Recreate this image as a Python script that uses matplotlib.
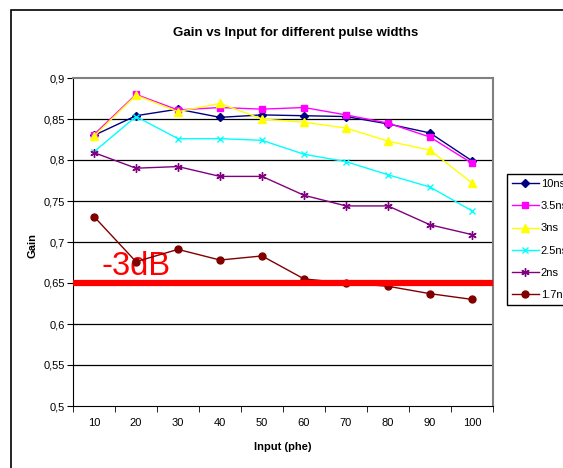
import numpy as np
import matplotlib.pyplot as plt
from matplotlib.patches import Rectangle

plt.rcParams['font.family'] = ['Liberation Sans', 'DejaVu Sans']

# datos
inputs = [10, 20, 30, 40, 50, 60, 70, 80, 90, 100]
g_10ns = [0.830, 0.854, 0.862, 0.852, 0.855, 0.854, 0.853, 0.844, 0.833, 0.799]
g_35ns = [0.831, 0.880, 0.861, 0.864, 0.862, 0.864, 0.855, 0.845, 0.828, 0.796]
g_3ns = [0.829, 0.879, 0.859, 0.869, 0.850, 0.846, 0.839, 0.823, 0.812, 0.772]
g_25ns = [0.810, 0.853, 0.826, 0.826, 0.824, 0.807, 0.798, 0.782, 0.767, 0.738]
g_2ns = [0.809, 0.790, 0.792, 0.780, 0.780, 0.757, 0.744, 0.744, 0.721, 0.709]
g_17ns = [0.731, 0.676, 0.691, 0.678, 0.683, 0.655, 0.650, 0.646, 0.637, 0.630]
series_labels = ['10ns', '3.5ns', '3ns', '2.5ns', '2ns', '1.7ns']
limit_3db = 0.65
yticks = [0.5, 0.55, 0.6, 0.65, 0.7, 0.75, 0.8, 0.85, 0.9]

estilos = [
    ('#000080', 'D', 4.5),
    ('#FF00FF', 's', 5),
    ('#FFFF00', '^', 6),
    ('#00FFFF', 'x', 5),
    ('#800080', (6, 2, 0), 6),
    ('#800000', 'o', 5),
]

fig = plt.figure(figsize=(5.63, 4.68), dpi=100)
# marco del grafico
fig.patches.append(Rectangle((11 / 563, -0.1), 1.2, 1 - 10 / 468 + 0.1,
                             transform=fig.transFigure, fill=False,
                             edgecolor='black', linewidth=1.2))

ax = fig.add_axes([73 / 563, 1 - 406 / 468, 420 / 563, 328 / 468])
pos = np.arange(1, len(inputs) + 1)

for ys, lab, (col, mk, ms) in zip([g_10ns, g_35ns, g_3ns, g_25ns, g_2ns, g_17ns],
                                  series_labels, estilos):
    ax.plot(pos, ys, color=col, marker=mk, markersize=ms, linewidth=1,
            markeredgewidth=1, label=lab, zorder=3)

ax.axhline(limit_3db, color='red', linewidth=4.5, zorder=4)
ax.text(1.17, 0.660, '-3dB', color='red', fontsize=23.5, va='baseline', ha='left', zorder=2)

ax.set_xlim(0.5, len(inputs) + 0.5)
ax.set_ylim(0.5, 0.9)
ax.set_yticks(yticks)
ax.set_yticklabels([('%g' % v).replace('.', ',') for v in yticks], fontsize=8)
ax.set_xticks(pos)
ax.set_xticklabels([str(v) for v in inputs], fontsize=8)
ax.set_xticks(np.arange(0.5, len(inputs) + 1), minor=True)
ax.tick_params(axis='x', which='major', length=0, pad=9)
ax.tick_params(axis='x', which='minor', length=4, direction='out')
ax.tick_params(axis='y', length=4, direction='out', pad=2)
for y in yticks[1:-1]:
    ax.axhline(y, color='black', linewidth=0.9, zorder=1)

ax.spines['top'].set_color('#808080')
ax.spines['right'].set_color('#808080')
ax.spines['top'].set_linewidth(1.5)
ax.spines['right'].set_linewidth(1.5)

ax.set_xlabel('Input (phe)', fontsize=8, fontweight='bold', labelpad=10)
fig.text(32 / 563, 1 - 245 / 468, 'Gain', rotation=90, fontsize=8,
         fontweight='bold', ha='center', va='center')
fig.text(296 / 563, 1 - 33 / 468, 'Gain vs Input for different pulse widths',
         fontsize=9.5, fontweight='bold', ha='center', va='center')

leg = ax.legend(loc='upper left', bbox_to_anchor=(507 / 563, 1 - 174 / 468),
                bbox_transform=fig.transFigure, fancybox=False, framealpha=1,
                edgecolor='black', fontsize=8, handlelength=2.4,
                labelspacing=1.1, borderpad=0.45, borderaxespad=0,
                handletextpad=0.2)
leg.get_frame().set_linewidth(1)

fig.savefig('out.png', dpi=100)
